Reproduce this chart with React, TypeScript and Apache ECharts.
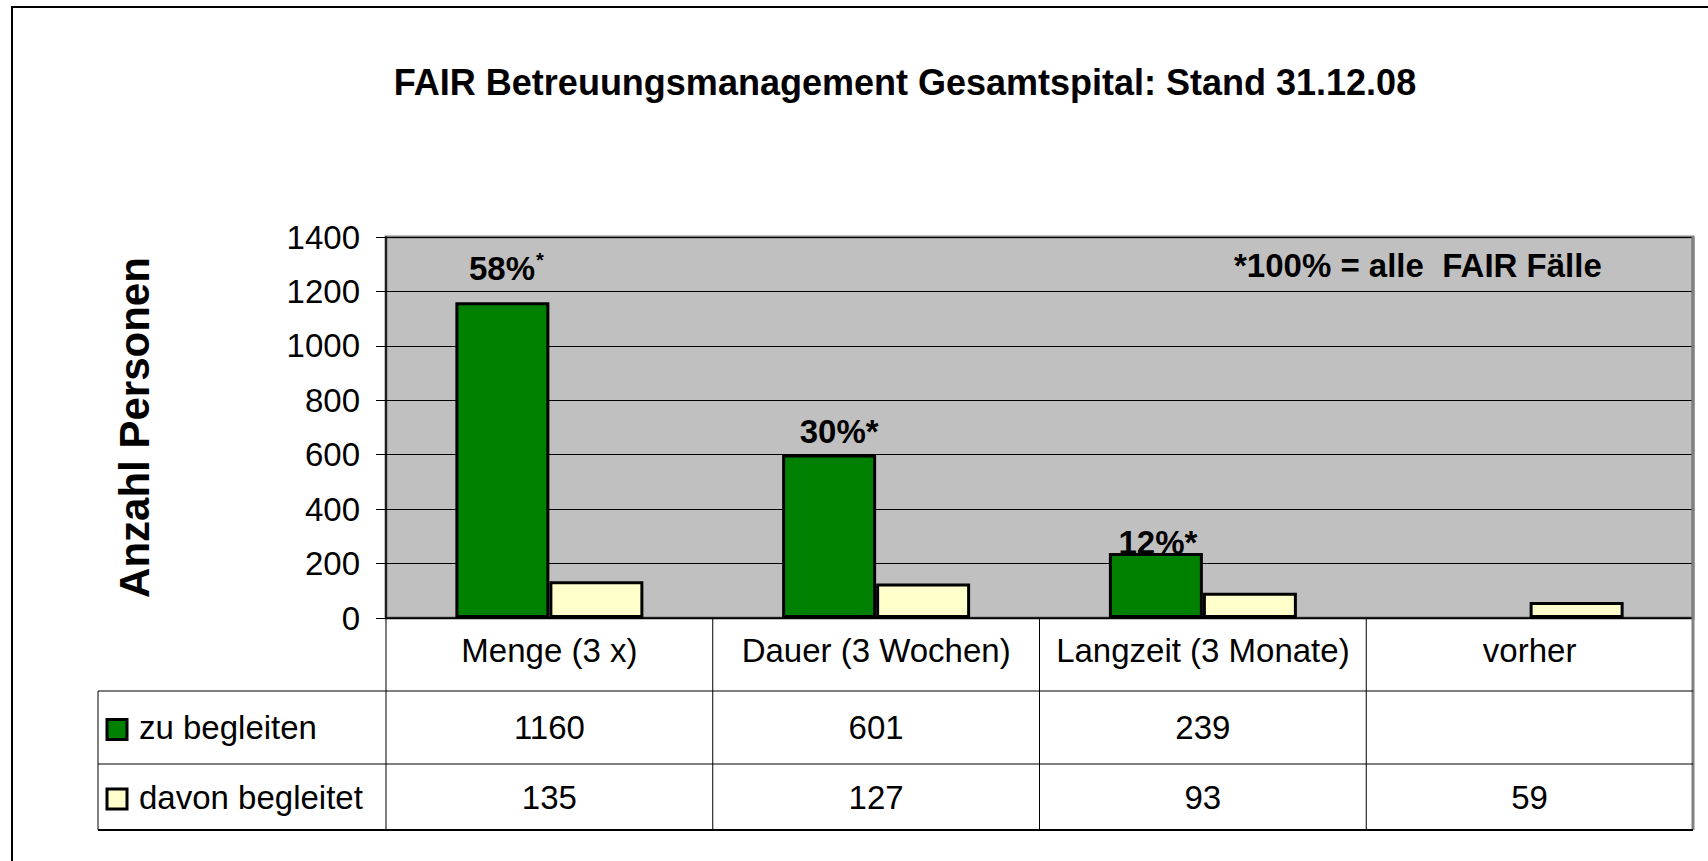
import React, { useEffect, useRef } from "react";
import * as echarts from "echarts";

const titleText = "FAIR Betreuungsmanagement Gesamtspital: Stand 31.12.08";
const yAxisName = "Anzahl Personen";
const noteText = "*100% = alle  FAIR Fälle";
const categories = ["Menge (3 x)", "Dauer (3 Wochen)", "Langzeit (3 Monate)", "vorher"];
const seriesNames = ["zu begleiten", "davon begleitet"];
const zuBegleiten: (number | null)[] = [1160, 601, 239, null];
const davonBegleitet: (number | null)[] = [135, 127, 93, 59];
const percentLabels = ["58%", "30%", "12%", ""];
const percentSuperscript = [true, false, false, false];
const yMin = 0;
const yMax = 1400;
const yInterval = 200;

const FONT = "'Liberation Sans', Arial, Helvetica, sans-serif";
const GREEN = "#008000";
const YELLOW = "#FFFFCC";

export default function App() {
  const ref = useRef<HTMLDivElement>(null);

  useEffect(() => {
    if (!ref.current) return;
    const chart = echarts.init(ref.current, undefined, { renderer: "svg" });

    const gridLeft = 386;
    const gridTop = 237;
    const gridWidth = 1307;
    const gridHeight = 381;
    const gridBottomY = gridTop + gridHeight;
    const colW = gridWidth / categories.length;
    const tableLeft = 98;
    const tableRight = gridLeft + gridWidth;
    const row1Top = 691;
    const row2Top = 764;
    const tableBottom = 830;

    const labelDistances = [16, 6, -6, 0];
    const labelOffsets = [[4, 0], [10, 0], [2, 0], [0, 0]];

    const greenData = zuBegleiten.map((v, i) => {
      if (v === null) return null;
      const txt = percentLabels[i];
      return {
        value: v,
        label: {
          show: txt !== "",
          position: "top",
          distance: labelDistances[i],
          offset: labelOffsets[i],
          formatter: percentSuperscript[i] ? `{a|${txt}}{s|*}` : `{a|${txt}*}`,
          rich: {
            a: { fontSize: 33, fontWeight: "bold", fontFamily: FONT, color: "#000" },
            s: { fontSize: 20, fontWeight: "bold", fontFamily: FONT, color: "#000", verticalAlign: "top", padding: [0, 0, 16, 1] },
          },
        },
      };
    });

    const graphic: any[] = [];
    const line = (x1: number, y1: number, x2: number, y2: number, stroke = "#000", lw = 1) =>
      graphic.push({ type: "line", z: 100, shape: { x1, y1, x2, y2 }, style: { stroke, lineWidth: lw } });
    const text = (t: string, x: number, y: number, opts: any = {}) =>
      graphic.push({
        type: "text",
        z: 100,
        x,
        y,
        style: {
          text: t,
          fill: "#000",
          font: opts.font || `33px ${FONT}`,
          textAlign: opts.align || "center",
          textVerticalAlign: "middle",
          align: opts.align || "center",
          verticalAlign: "middle",
        },
      });

    // outer frame
    graphic.push({ type: "polyline", z: 100, shape: { points: [[12, 861], [12, 7], [1708, 7]] }, style: { stroke: "#000", lineWidth: 2, fill: null } });

    // table lines
    for (let i = 0; i < categories.length; i++) {
      const x = gridLeft + i * colW;
      line(x, gridBottomY, x, tableBottom);
    }
    line(tableRight, gridTop, tableRight, tableBottom, "#808080", 3);
    line(tableLeft, row1Top, tableLeft, tableBottom, "#808080", 2);
    line(tableLeft, row1Top, tableRight, row1Top);
    line(tableLeft, row2Top, tableRight, row2Top);
    line(tableLeft, tableBottom, tableRight, tableBottom, "#000", 2);

    const rowCenters = [(row1Top + row2Top) / 2, (row2Top + tableBottom) / 2];
    const rowValues = [zuBegleiten, davonBegleitet];
    const colors = [GREEN, YELLOW];
    rowValues.forEach((vals, r) => {
      const cy = rowCenters[r];
      graphic.push({
        type: "rect",
        z: 100,
        shape: { x: 107, y: cy - 8, width: 20, height: 20 },
        style: { fill: colors[r], stroke: "#000", lineWidth: 3 },
      });
      text(seriesNames[r], 139, cy, { align: "left" });
      vals.forEach((v, i) => {
        if (v === null) return;
        text(String(v), gridLeft + (i + 0.5) * colW, cy);
      });
    });

    // note
    text(noteText, 1234, 265, { align: "left", font: `bold 33px ${FONT}` });

    chart.setOption({
      animation: false,
      backgroundColor: "#fff",
      title: {
        text: titleText,
        left: 900,
        top: 59,
        textAlign: "center",
        textStyle: { fontFamily: FONT, fontSize: 36, fontWeight: "bold", color: "#000" },
      },
      grid: {
        left: gridLeft,
        top: gridTop,
        width: gridWidth,
        height: gridHeight,
        show: true,
        backgroundColor: "#C0C0C0",
        borderColor: "#808080",
        borderWidth: 3,
      },
      xAxis: {
        type: "category",
        data: categories,
        axisLine: { show: true, lineStyle: { color: "#000", width: 1.5 } },
        axisTick: { show: false },
        axisLabel: { interval: 0, margin: 16, fontFamily: FONT, fontSize: 33, color: "#000" },
      },
      yAxis: {
        type: "value",
        min: yMin,
        max: yMax,
        interval: yInterval,
        name: yAxisName,
        nameLocation: "middle",
        nameRotate: 90,
        nameGap: 231,
        nameTextStyle: { fontFamily: FONT, fontSize: 42, fontWeight: "bold", color: "#000" },
        axisLine: { show: true, lineStyle: { color: "#000", width: 1.5 } },
        axisTick: { show: true, length: 10, lineStyle: { color: "#000" } },
        axisLabel: { margin: 26, fontFamily: FONT, fontSize: 33, color: "#000", formatter: (v: number) => String(v) },
        splitLine: { show: true, lineStyle: { color: "#000", width: 1 } },
      },
      series: [
        {
          name: seriesNames[0],
          type: "bar",
          data: greenData,
          barWidth: 94,
          barGap: "0%",
          itemStyle: { color: GREEN, borderColor: "#000", borderWidth: 3 },
        },
        {
          name: seriesNames[1],
          type: "bar",
          data: davonBegleitet,
          barWidth: 94,
          barGap: "0%",
          itemStyle: { color: YELLOW, borderColor: "#000", borderWidth: 3 },
        },
      ],
      graphic,
    });

    return () => chart.dispose();
  }, []);

  return <div ref={ref} style={{ position: "fixed", left: 0, top: 0, width: 1708, height: 861 }} />;
}
